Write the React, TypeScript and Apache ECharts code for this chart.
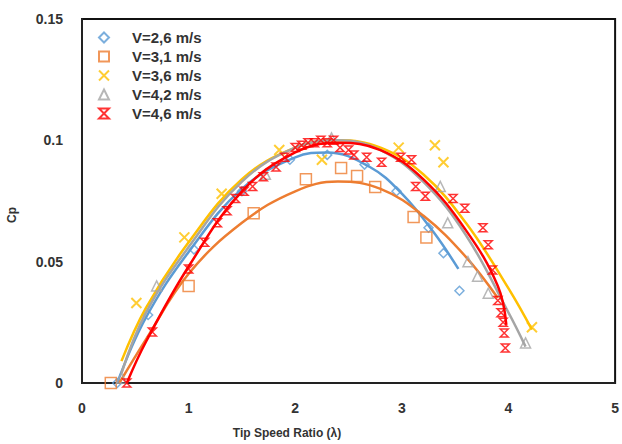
import React, { useEffect, useRef } from "react";
import * as echarts from "echarts";

const seriesNames = ["V=2,6 m/s", "V=3,1 m/s", "V=3,6 m/s", "V=4,2 m/s", "V=4,6 m/s"];
const colors = ["#5B9BD5", "#ED7D31", "#FFC000", "#A5A5A5", "#FF0000"];
const xTicks = [0, 1, 2, 3, 4, 5];
const yTicks = [0, 0.05, 0.1, 0.15];
const xTitle = "Tip Speed Ratio (λ)";
const yTitle = "Cp";

// measured points [tip speed ratio, Cp]
const v26Points = [
  [0.33, 0], [0.62, 0.028], [1.05, 0.055], [1.5, 0.079], [1.95, 0.092], [2.3, 0.094],
  [2.65, 0.09], [2.95, 0.079], [3.25, 0.064], [3.39, 0.0535], [3.54, 0.038],
];
const v31Points = [
  [0.27, 0], [1.0, 0.04], [1.61, 0.07], [2.1, 0.084], [2.43, 0.0886], [2.58, 0.0853],
  [2.75, 0.0808], [3.11, 0.0684], [3.23, 0.06],
];
const v36Points = [
  [0.51, 0.033], [0.96, 0.06], [1.31, 0.078], [1.85, 0.096], [2.25, 0.092],
  [2.97, 0.097], [3.31, 0.098], [3.39, 0.091], [4.22, 0.023],
];
const v42Points = [
  [0.37, 0.002], [0.7, 0.04], [1.72, 0.086], [2.34, 0.101], [3.36, 0.081], [3.43, 0.066],
  [3.62, 0.05], [3.71, 0.044], [3.81, 0.037], [4.16, 0.0165],
];
const v46Points = [
  [0.42, 0], [0.66, 0.021], [1.0, 0.047], [1.15, 0.058], [1.27, 0.066], [1.36, 0.071],
  [1.44, 0.076], [1.52, 0.079], [1.6, 0.081], [1.7, 0.085], [1.82, 0.089], [1.9, 0.093],
  [2.0, 0.097], [2.06, 0.098], [2.12, 0.099], [2.18, 0.099], [2.24, 0.1], [2.3, 0.099],
  [2.36, 0.1], [2.42, 0.097], [2.5, 0.096], [2.55, 0.094], [2.67, 0.093], [2.81, 0.091],
  [2.99, 0.093], [3.09, 0.092], [3.13, 0.081], [3.22, 0.077], [3.48, 0.076], [3.59, 0.072],
  [3.76, 0.064], [3.81, 0.057], [3.85, 0.0466], [3.9, 0.034], [3.93, 0.029], [3.95, 0.025],
  [3.96, 0.0206], [3.97, 0.0144],
];

// trendline points
const v26Trend = [
  [0.33, 0.0], [0.6, 0.027], [1.0, 0.054], [1.5, 0.08], [2.0, 0.093], [2.3, 0.095],
  [2.7, 0.089], [3.0, 0.078], [3.3, 0.062], [3.53, 0.047],
];
const v31Trend = [
  [0.35, 0.0], [0.6, 0.018], [1.0, 0.045], [1.5, 0.066], [2.0, 0.079], [2.4, 0.083],
  [2.8, 0.08], [3.2, 0.069], [3.6, 0.052], [3.9, 0.035],
];
const v36Trend = [
  [0.37, 0.009], [0.6, 0.031], [1.0, 0.058], [1.5, 0.084], [2.0, 0.097], [2.4, 0.1],
  [2.8, 0.097], [3.2, 0.086], [3.6, 0.066], [4.0, 0.039], [4.22, 0.022],
];
const v42Trend = [
  [0.37, 0.004], [0.6, 0.029], [1.0, 0.056], [1.5, 0.083], [2.0, 0.097], [2.4, 0.1],
  [2.8, 0.096], [3.2, 0.083], [3.6, 0.061], [4.0, 0.029], [4.16, 0.015],
];
const v46Trend = [
  [0.42, 0.0], [0.6, 0.017], [1.0, 0.048], [1.5, 0.079], [2.0, 0.095], [2.4, 0.099],
  [2.8, 0.096], [3.2, 0.084], [3.6, 0.063], [3.9, 0.04], [3.98, 0.024],
];

const allPoints = [v26Points, v31Points, v36Points, v42Points, v46Points];
const allTrends = [v26Trend, v31Trend, v36Trend, v42Trend, v46Trend];

const symbols = [
  "diamond",
  "rect",
  "path://M0,0 L10,10 M10,0 L0,10",
  "triangle",
  "path://M0,0 L10,0 L0,10 L10,10 Z",
];
const symbolSizes = [9, 11, 10, 10, 8];

const FONT = "'Liberation Sans', Arial, sans-serif";

export default function App() {
  const ref = useRef<HTMLDivElement>(null);
  useEffect(() => {
    if (!ref.current) return;
    const chart = echarts.init(ref.current, null, { renderer: "svg" });
    const series: any[] = [];
    for (let i = 0; i < 5; i++) {
      series.push({
        name: seriesNames[i] + " trend",
        type: "line",
        data: allTrends[i],
        smooth: 0.4,
        showSymbol: false,
        symbol: "none",
        lineStyle: { color: colors[i], width: 2.5 },
        silent: true,
        z: 2 + i * 2,
      });
      series.push({
        name: seriesNames[i],
        type: "scatter",
        data: allPoints[i],
        symbol: symbols[i],
        symbolSize: symbolSizes[i],
        itemStyle: {
          color: "rgba(255,255,255,0)",
          borderColor: colors[i],
          borderWidth: i === 2 ? 2 : 1.5,
        },
        z: 3 + i * 2,
      });
    }
    chart.setOption({
      animation: false,
      backgroundColor: "#fff",
      grid: {
        left: 82,
        top: 19,
        right: 4,
        bottom: 61,
        show: true,
        borderColor: "#111",
        borderWidth: 2,
        backgroundColor: "#fff",
      },
      legend: {
        data: seriesNames,
        orient: "vertical",
        left: 98,
        top: 30,
        padding: 0,
        itemWidth: 10,
        itemHeight: 10,
        itemGap: 4,
        textStyle: {
          color: "#333",
          fontFamily: FONT,
          fontWeight: "bold",
          fontSize: 15,
          lineHeight: 15,
          padding: [0, 0, 0, 18],
        },
      },
      graphic: [
        {
          type: "text",
          x: 287,
          y: 433,
          style: {
            text: xTitle,
            fill: "#333",
            font: "bold 12px " + FONT,
            textAlign: "center",
            textVerticalAlign: "middle",
          },
        },
        {
          type: "text",
          x: 12,
          y: 215,
          rotation: Math.PI / 2,
          style: {
            text: yTitle,
            fill: "#333",
            font: "bold 12px " + FONT,
            textAlign: "center",
            textVerticalAlign: "middle",
          },
        },
      ],
      xAxis: {
        type: "value",
        min: xTicks[0],
        max: xTicks[xTicks.length - 1],
        interval: 1,
        axisLine: { show: true, lineStyle: { color: "#222", width: 2 } },
        axisTick: { show: false },
        splitLine: { show: false },
        axisLabel: {
          margin: 18,
          color: "#333",
          fontFamily: FONT,
          fontWeight: "bold",
          fontSize: 14,
          showMaxLabel: true,
        },
      },
      yAxis: {
        type: "value",
        min: yTicks[0],
        max: yTicks[yTicks.length - 1],
        interval: 0.05,
        axisLine: { show: true, lineStyle: { color: "#222", width: 2 } },
        axisTick: { show: false },
        splitLine: { show: false },
        axisLabel: {
          margin: 19,
          color: "#333",
          fontFamily: FONT,
          fontWeight: "bold",
          fontSize: 14,
          formatter: (v: number) => String(Number(v.toFixed(2))),
        },
      },
      series,
    });
    return () => chart.dispose();
  }, []);
  return (
    <div
      ref={ref}
      style={{ position: "fixed", left: 0, top: 0, width: 622, height: 444, background: "#fff" }}
    />
  );
}
